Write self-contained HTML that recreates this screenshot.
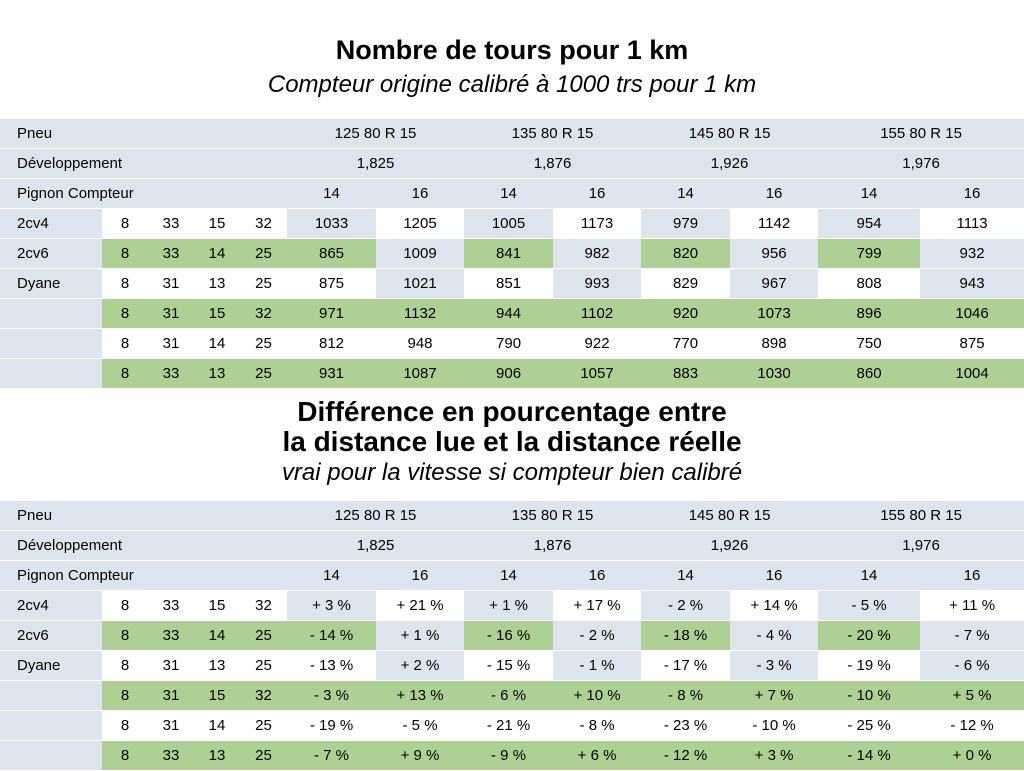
<!DOCTYPE html>
<html><head><meta charset="utf-8"><style>
body{margin:0;width:1024px;height:768px;background:#fff;font-family:"Liberation Sans",sans-serif;position:relative;overflow:hidden}
.t{position:absolute;left:0;width:1024px;text-align:center;color:#000;line-height:1}
.h{font-weight:bold;font-size:27px}
.s{font-style:italic;font-size:24px}
table{position:absolute;left:0;border-collapse:collapse;table-layout:fixed;width:1024px;font-size:15px}
td{height:29px;padding:0;text-align:center;border:0;border-bottom:1px solid #fff;white-space:nowrap}
td.l{text-align:left;padding-left:17px}
.b{background:#dce4ee}.w{background:#fff}.g{background:#aed095}
</style></head><body>
<div class="t h" style="top:37px">Nombre de tours pour 1 km</div>
<div class="t s" style="top:73px">Compteur origine calibré à 1000 trs pour 1 km</div>
<table style="top:119px">
<colgroup><col style="width:102px"><col style="width:46px"><col style="width:46px"><col style="width:46px"><col style="width:47px"><col style="width:89px"><col style="width:88px"><col style="width:89px"><col style="width:88px"><col style="width:89px"><col style="width:88px"><col style="width:102px"><col style="width:104px"></colgroup>
<tr class="b"><td class="l" colspan="5">Pneu</td><td colspan="2">125 80 R 15</td><td colspan="2">135 80 R 15</td><td colspan="2">145 80 R 15</td><td colspan="2">155 80 R 15</td></tr>
<tr class="b"><td class="l" colspan="5">Développement</td><td colspan="2">1,825</td><td colspan="2">1,876</td><td colspan="2">1,926</td><td colspan="2">1,976</td></tr>
<tr class="b"><td class="l" colspan="5">Pignon Compteur</td><td>14</td><td>16</td><td>14</td><td>16</td><td>14</td><td>16</td><td>14</td><td>16</td></tr>
<tr><td class="l b">2cv4</td><td class="w">8</td><td class="w">33</td><td class="w">15</td><td class="w">32</td><td class="b">1033</td><td class="w">1205</td><td class="b">1005</td><td class="w">1173</td><td class="b">979</td><td class="w">1142</td><td class="b">954</td><td class="w">1113</td></tr>
<tr><td class="l b">2cv6</td><td class="g">8</td><td class="g">33</td><td class="g">14</td><td class="g">25</td><td class="g">865</td><td class="b">1009</td><td class="g">841</td><td class="b">982</td><td class="g">820</td><td class="b">956</td><td class="g">799</td><td class="b">932</td></tr>
<tr><td class="l b">Dyane</td><td class="w">8</td><td class="w">31</td><td class="w">13</td><td class="w">25</td><td class="w">875</td><td class="b">1021</td><td class="w">851</td><td class="b">993</td><td class="w">829</td><td class="b">967</td><td class="w">808</td><td class="b">943</td></tr>
<tr class="g"><td class="l b"></td><td>8</td><td>31</td><td>15</td><td>32</td><td>971</td><td>1132</td><td>944</td><td>1102</td><td>920</td><td>1073</td><td>896</td><td>1046</td></tr>
<tr class="w"><td class="l b"></td><td>8</td><td>31</td><td>14</td><td>25</td><td>812</td><td>948</td><td>790</td><td>922</td><td>770</td><td>898</td><td>750</td><td>875</td></tr>
<tr class="g"><td class="l b"></td><td>8</td><td>33</td><td>13</td><td>25</td><td>931</td><td>1087</td><td>906</td><td>1057</td><td>883</td><td>1030</td><td>860</td><td>1004</td></tr>
</table>
<div class="t h" style="top:398px;font-size:28px">Différence en pourcentage entre</div>
<div class="t h" style="top:428px;font-size:28px">la distance lue et la distance réelle</div>
<div class="t s" style="top:461px">vrai pour la vitesse si compteur bien calibré</div>
<table style="top:501px">
<colgroup><col style="width:102px"><col style="width:46px"><col style="width:46px"><col style="width:46px"><col style="width:47px"><col style="width:89px"><col style="width:88px"><col style="width:89px"><col style="width:88px"><col style="width:89px"><col style="width:88px"><col style="width:102px"><col style="width:104px"></colgroup>
<tr class="b"><td class="l" colspan="5">Pneu</td><td colspan="2">125 80 R 15</td><td colspan="2">135 80 R 15</td><td colspan="2">145 80 R 15</td><td colspan="2">155 80 R 15</td></tr>
<tr class="b"><td class="l" colspan="5">Développement</td><td colspan="2">1,825</td><td colspan="2">1,876</td><td colspan="2">1,926</td><td colspan="2">1,976</td></tr>
<tr class="b"><td class="l" colspan="5">Pignon Compteur</td><td>14</td><td>16</td><td>14</td><td>16</td><td>14</td><td>16</td><td>14</td><td>16</td></tr>
<tr><td class="l b">2cv4</td><td class="w">8</td><td class="w">33</td><td class="w">15</td><td class="w">32</td><td class="b">+ 3 %</td><td class="w">+ 21 %</td><td class="b">+ 1 %</td><td class="w">+ 17 %</td><td class="b">- 2 %</td><td class="w">+ 14 %</td><td class="b">- 5 %</td><td class="w">+ 11 %</td></tr>
<tr><td class="l b">2cv6</td><td class="g">8</td><td class="g">33</td><td class="g">14</td><td class="g">25</td><td class="g">- 14 %</td><td class="b">+ 1 %</td><td class="g">- 16 %</td><td class="b">- 2 %</td><td class="g">- 18 %</td><td class="b">- 4 %</td><td class="g">- 20 %</td><td class="b">- 7 %</td></tr>
<tr><td class="l b">Dyane</td><td class="w">8</td><td class="w">31</td><td class="w">13</td><td class="w">25</td><td class="w">- 13 %</td><td class="b">+ 2 %</td><td class="w">- 15 %</td><td class="b">- 1 %</td><td class="w">- 17 %</td><td class="b">- 3 %</td><td class="w">- 19 %</td><td class="b">- 6 %</td></tr>
<tr class="g"><td class="l b"></td><td>8</td><td>31</td><td>15</td><td>32</td><td>- 3 %</td><td>+ 13 %</td><td>- 6 %</td><td>+ 10 %</td><td>- 8 %</td><td>+ 7 %</td><td>- 10 %</td><td>+ 5 %</td></tr>
<tr class="w"><td class="l b"></td><td>8</td><td>31</td><td>14</td><td>25</td><td>- 19 %</td><td>- 5 %</td><td>- 21 %</td><td>- 8 %</td><td>- 23 %</td><td>- 10 %</td><td>- 25 %</td><td>- 12 %</td></tr>
<tr class="g"><td class="l b"></td><td>8</td><td>33</td><td>13</td><td>25</td><td>- 7 %</td><td>+ 9 %</td><td>- 9 %</td><td>+ 6 %</td><td>- 12 %</td><td>+ 3 %</td><td>- 14 %</td><td>+ 0 %</td></tr>
</table>
</body></html>
